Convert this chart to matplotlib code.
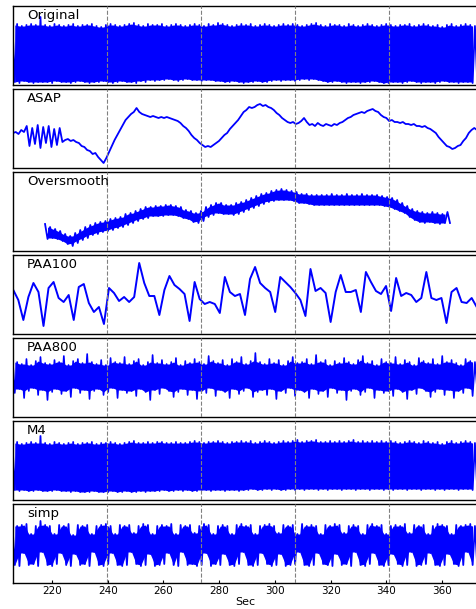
import numpy as np
import matplotlib
matplotlib.use("Agg")
import matplotlib.pyplot as plt

plt.rcParams["path.simplify"] = False

# panel names, top to bottom
names = ["Original", "ASAP", "Oversmooth", "PAA100", "PAA800", "M4", "simp"]

# dashed markers (sec)
vline_t = [239.8, 273.5, 307.2, 340.9]
xticks = [220, 240, 260, 280, 300, 320, 340, 360]

# values (height above panel floor, panel range 0..79)
orig_hi = [60, 61, 59, 60, 61, 60, 68, 60, 59, 61, 60, 59, 60, 61, 59, 60, 60, 61, 59, 58,
           60, 61, 60, 59, 60, 61, 62, 60, 59, 61, 60, 60, 61, 59, 60, 61, 60, 59, 60, 61,
           60, 59, 61, 60, 62, 61, 60, 59, 60, 61, 60, 61, 59, 60, 61, 60, 59, 60, 61, 60,
           61, 60, 59, 60, 61, 62, 60, 59, 61, 60, 60, 59, 61, 60, 59, 60, 61, 60, 59, 60,
           61, 60, 59, 60, 60, 61, 59, 60, 61, 60, 59, 60, 58, 60, 61, 59, 60, 61, 60, 59]
orig_lo = [3, 2, 4, 3, 2, 3, 3, 3, 2, 4, 3, 3, 2, 3, 4, 3, 2, 3, 3, 4,
           3, 2, 3, 4, 3, 3, 2, 4, 3, 5, 4, 5, 5, 6, 5, 4, 5, 6, 5, 5,
           4, 5, 5, 4, 4, 3, 3, 4, 3, 2, 3, 3, 4, 3, 3, 4, 5, 4, 5, 5,
           4, 5, 6, 5, 6, 5, 4, 3, 3, 4, 3, 2, 3, 3, 2, 3, 3, 4, 3, 2,
           2, 3, 3, 2, 3, 4, 3, 2, 3, 3, 2, 3, 4, 3, 3, 2, 3, 3, 2, 3]

asap = [35, 36, 34, 38, 36, 42, 22, 40, 24, 43, 20, 41, 25, 42, 21, 39, 23, 40, 26,
        28, 29, 27, 28, 26, 25, 22, 21, 18, 17, 14, 15, 11, 8, 5, 10,
        16, 22, 28, 33, 38, 43, 48, 51, 54, 56, 60, 56, 54, 53, 52, 51,
        52, 51, 50, 51, 50, 51, 50, 49, 48, 47, 45, 42, 40, 37, 33, 30, 28,
        25, 23, 21, 22, 21, 23, 25, 27, 30, 33, 35, 39, 42, 45, 48, 52,
        56, 58, 61, 60, 61, 63, 64, 62, 63, 61, 60, 58, 55, 53, 50, 48, 46,
        45, 46, 44, 45, 47, 50, 46, 43, 44, 42, 45, 43, 42, 44, 43, 42, 44, 43, 45,
        46, 48, 50, 51, 53, 54, 55, 56, 55, 57, 58, 59, 57, 56, 53, 51, 50,
        47, 48, 46, 46, 45, 46, 44, 44, 43, 44, 42, 42, 41, 42, 40, 39, 37, 35,
        31, 28, 25, 22, 21, 19, 20, 22, 23, 27, 30, 35, 38, 40, 38]

osm_hi = [27, 24, 22, 20, 17, 15, 18, 21, 24, 26, 28, 29, 30, 32, 33, 34, 37, 38, 40, 42,
          44, 44, 45, 45, 46, 46, 45, 44, 41, 40, 38, 40, 44, 46, 48, 48, 46, 46, 48, 49,
          51, 53, 55, 57, 58, 60, 61, 62, 61, 60, 59, 57, 57, 56, 56, 56, 56, 57, 56, 56,
          57, 56, 56, 57, 56, 56, 56, 55, 54, 53, 51, 48, 45, 42, 40, 39, 38, 39, 38, 37, 39]
osm_lo = [12, 13, 12, 10, 7, 5, 8, 11, 13, 16, 17, 19, 20, 21, 23, 24, 26, 28, 30, 32,
          33, 35, 35, 35, 36, 36, 35, 33, 32, 29, 28, 30, 34, 36, 38, 37, 37, 36, 37, 39,
          41, 43, 45, 47, 49, 50, 51, 51, 51, 50, 48, 48, 47, 46, 46, 46, 46, 46, 46, 46,
          46, 46, 46, 46, 46, 46, 46, 45, 44, 42, 40, 38, 34, 31, 29, 28, 29, 28, 27, 28, 28]

paa100 = [44, 34, 14, 37, 51, 42, 8, 46, 52, 36, 32, 39, 14, 47, 50, 31, 22, 27, 10, 46,
          41, 33, 37, 32, 37, 71, 51, 38, 38, 19, 44, 58, 49, 45, 40, 13, 52, 35, 30, 32,
          30, 21, 57, 42, 38, 40, 19, 55, 67, 51, 46, 42, 22, 57, 52, 47, 41, 34, 18, 65,
          43, 46, 41, 12, 42, 59, 42, 42, 44, 22, 62, 52, 43, 40, 48, 23, 56, 38, 41, 39,
          32, 36, 62, 36, 34, 36, 11, 42, 46, 32, 31, 36, 27]

paa800_hi = [62, 55, 53, 58, 52, 56, 60, 54, 53, 57, 55, 61, 52, 56, 58, 54, 63, 55, 53, 57,
             52, 59, 55, 54, 60, 53, 56, 58, 52, 55, 62, 54, 57, 53, 55, 59, 52, 56, 54, 58,
             55, 53, 61, 56, 54, 57, 52, 58, 55, 60, 53, 56, 64, 55, 53, 58, 54, 57, 52, 56,
             60, 54, 55, 58, 53, 62, 55, 57, 52, 56, 54, 59, 55, 53, 57, 61, 54, 56, 52, 58,
             55, 54, 60, 53, 57, 55, 52, 59, 56, 54, 58, 53, 61, 55, 57, 54, 52, 58, 56, 55]
paa800_lo = [24, 28, 19, 26, 29, 22, 27, 17, 25, 28, 23, 26, 20, 29, 24, 27, 18, 26, 28, 22,
             25, 29, 19, 27, 24, 26, 21, 28, 25, 17, 27, 23, 29, 26, 20, 25, 28, 22, 27, 18,
             26, 24, 29, 21, 27, 25, 19, 28, 23, 26, 29, 20, 25, 27, 22, 28, 18, 26, 24, 29,
             21, 27, 25, 19, 28, 23, 26, 20, 29, 24, 27, 17, 26, 28, 22, 25, 29, 19, 27, 24,
             26, 21, 28, 25, 18, 27, 23, 29, 26, 20, 25, 28, 22, 27, 19, 26, 24, 29, 21, 27]

m4_hi = [57, 58, 56, 57, 58, 57, 64, 57, 56, 58, 57, 56, 57, 58, 56, 57, 57, 58, 56, 57,
         57, 58, 57, 56, 57, 58, 59, 57, 57, 58, 57, 58, 58, 57, 57, 58, 57, 57, 58, 59,
         58, 57, 58, 58, 59, 58, 57, 58, 58, 59, 58, 59, 57, 58, 59, 58, 57, 58, 59, 58,
         59, 60, 58, 59, 59, 60, 58, 58, 59, 58, 59, 58, 59, 60, 58, 59, 58, 59, 58, 59,
         58, 59, 58, 57, 58, 59, 58, 57, 59, 58, 57, 58, 56, 58, 59, 57, 58, 59, 58, 57]
m4_lo = [10, 9, 10, 9, 9, 10, 9, 9, 9, 10, 9, 9, 8, 9, 8, 8, 8, 9, 8, 8,
         8, 9, 8, 8, 9, 8, 8, 9, 8, 9, 9, 9, 10, 9, 9, 10, 9, 10, 9, 9,
         10, 10, 9, 10, 10, 9, 10, 10, 9, 10, 10, 11, 10, 10, 11, 10, 11, 10, 10, 11,
         10, 11, 10, 11, 11, 10, 11, 10, 11, 11, 10, 11, 11, 10, 11, 11, 10, 11, 11, 10,
         11, 10, 11, 11, 10, 11, 11, 10, 11, 11, 10, 11, 10, 11, 11, 10, 11, 11, 10, 11]

simp_hi = [58, 57, 58, 59, 49, 57, 62, 58, 57, 49, 58, 57, 59, 48, 58, 57, 58, 49, 57, 58,
           59, 57, 49, 58, 57, 58, 50, 57, 59, 58, 49, 57, 58, 57, 59, 49, 58, 57, 58, 50,
           57, 59, 58, 49, 57, 58, 57, 49, 58, 59, 57, 58, 49, 57, 58, 59, 57, 50, 58, 57,
           58, 49, 59, 57, 58, 57, 49, 58, 57, 59, 58, 50, 57, 58, 57, 49, 58, 59, 57, 58,
           49, 57, 58, 57, 59, 50, 58, 57, 58, 49, 57, 59, 58, 57, 49, 58, 57, 58, 59, 57]
simp_lo = [18, 17, 30, 18, 19, 17, 31, 18, 17, 19, 30, 18, 17, 29, 18, 19, 17, 31, 18, 17,
           19, 30, 18, 17, 18, 31, 19, 17, 18, 29, 17, 18, 19, 30, 18, 17, 31, 18, 19, 17,
           18, 30, 17, 19, 18, 29, 18, 17, 19, 31, 18, 17, 18, 30, 19, 17, 18, 29, 17, 18,
           19, 31, 18, 17, 18, 30, 19, 18, 17, 29, 18, 19, 17, 31, 18, 17, 19, 30, 18, 17,
           18, 29, 19, 17, 18, 31, 17, 18, 19, 30, 18, 17, 18, 29, 19, 17, 18, 31, 18, 17]


def zigzag(hi, lo):
    return np.column_stack((hi, lo)).ravel()


# (highs, lows or None, start sec, end sec, line width)
panels = [
    (orig_hi, orig_lo, 205.8, 372.6, 1.3),
    (asap, None, 206.0, 372.5, 1.3),
    (osm_hi, osm_lo, 217.5, 362.8, 1.3),
    (paa100, None, 206.1, 372.4, 1.4),
    (paa800_hi, paa800_lo, 205.8, 372.6, 1.2),
    (m4_hi, m4_lo, 205.8, 372.6, 1.3),
    (simp_hi, simp_lo, 205.8, 372.6, 1.3),
]

fig, axes = plt.subplots(7, 1, sharex=True, figsize=(4.77, 6.09), dpi=100)
fig.subplots_adjust(left=13 / 477, right=1.0, top=1 - 6 / 609,
                    bottom=1 - 583 / 609, hspace=4 / 79)

for ax, name, (hi, lo, t0, t1, lw) in zip(axes, names, panels):
    if lo is None:
        y = np.array(hi)
        t = np.linspace(t0, t1, len(y))
    else:
        hi = np.array(hi)
        lo = np.array(lo)
        y = zigzag(hi, lo)
        t = np.linspace(t0, t1, len(y))
        # dense core where neighbouring swings overlap
        core_top = np.minimum(hi[:-1], hi[1:])
        core_bot = np.maximum(lo[:-1], lo[1:])
        ax.fill_between(t[1::2][:-1], core_bot, core_top, color="blue", lw=0)
    ax.plot(t, y, color="blue", lw=lw)
    for xv in vline_t:
        ax.axvline(xv, color="gray", ls="--", lw=0.8, zorder=3)
    ax.text(0.03, 0.832, name, transform=ax.transAxes, fontsize=9.5,
            va="baseline", ha="left")
    ax.set_ylim(0, 79)
    ax.set_yticks([])
    ax.tick_params(axis="x", direction="in", length=0)
    for sp in ax.spines.values():
        sp.set_linewidth(1.0)

ax = axes[-1]
ax.set_xlim(206, 372.5)
ax.set_xticks(xticks)
ax.tick_params(axis="x", labelsize=7.5, pad=2, length=2)
ax.set_xlabel("Sec", fontsize=8, labelpad=1)

fig.savefig("out.png", dpi=100)
